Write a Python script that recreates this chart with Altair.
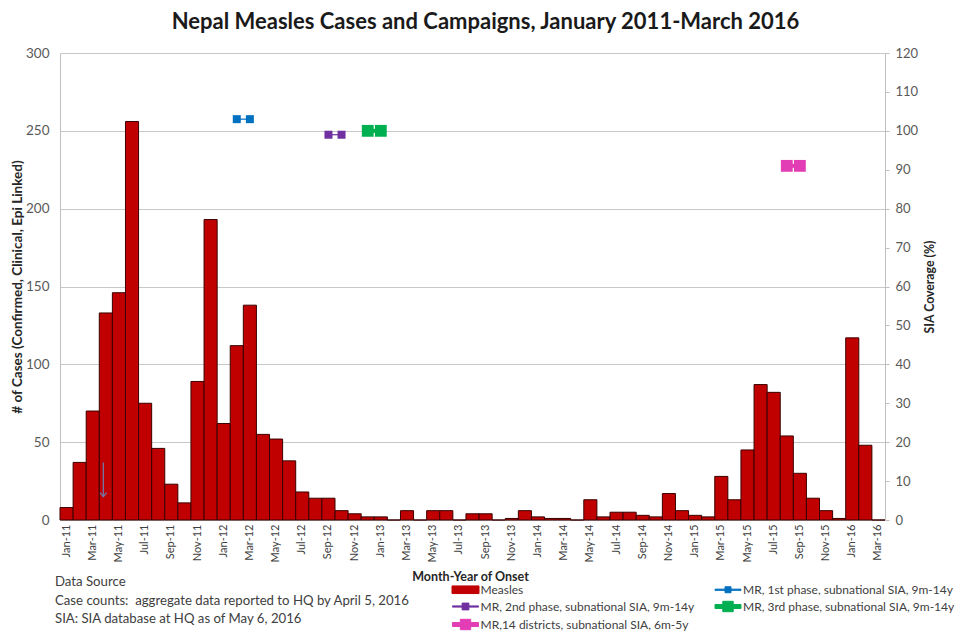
import altair as alt
import pandas as pd

# ---------------- data ----------------
month_labels = [d.strftime("%b-%y") for d in pd.date_range("2011-01-01", "2016-03-01", freq="MS")]
axis_month_labels = month_labels[::2]

cases = [
    8, 37, 70, 133, 146, 256, 75, 46, 23, 11, 89, 193,      # 2011
    62, 112, 138, 55, 52, 38, 18, 14, 14, 6, 4, 2,          # 2012
    2, 0, 6, 0, 6, 6, 0, 4, 4, 0, 1, 6,                     # 2013
    2, 1, 1, 0, 13, 2, 5, 5, 3, 2, 17, 6,                   # 2014
    3, 2, 28, 13, 45, 87, 82, 54, 30, 14, 6, 1,             # 2015
    117, 48, 0,                                             # 2016
]

series_names = [
    "Measles",
    "MR, 1st phase, subnational SIA, 9m-14y",
    "MR, 2nd phase, subnational SIA, 9m-14y",
    "MR, 3rd phase, subnational SIA, 9m-14y",
    "MR,14 districts, subnational SIA, 6m-5y",
]

mr1_months = ["Feb-12", "Mar-12"]
mr1_coverage = [103, 103]
mr2_months = ["Sep-12", "Oct-12"]
mr2_coverage = [99, 99]
mr3_months = ["Dec-12", "Jan-13"]
mr3_coverage = [100, 100]
mr14_months = ["Aug-15", "Sep-15"]
mr14_coverage = [91, 91]

arrow_month = ["Apr-11"]
arrow_top = [37]
arrow_bottom = [15]

notes = [
    "Data Source",
    "Case counts:\u00a0 aggregate data reported to HQ by April 5, 2016",
    "SIA: SIA database at HQ as of May 6, 2016",
]

# ---------------- styles ----------------
series_colors = ["#C00000", "#0070C0", "#7030A0", "#00B050", "#E33DB6"]
FONT = "Lato"

bars_df = pd.DataFrame({"month": month_labels, "cases": cases, "series": series_names[0]})
camp_df = pd.concat([
    pd.DataFrame({"month": mr1_months, "cov": mr1_coverage, "series": series_names[1]}),
    pd.DataFrame({"month": mr2_months, "cov": mr2_coverage, "series": series_names[2]}),
    pd.DataFrame({"month": mr3_months, "cov": mr3_coverage, "series": series_names[3]}),
    pd.DataFrame({"month": mr14_months, "cov": mr14_coverage, "series": series_names[4]}),
], ignore_index=True)
arrow_df = pd.DataFrame({"month": arrow_month, "top": arrow_top, "bottom": arrow_bottom})
notes_df = pd.DataFrame({"t": ["\n".join(notes)]})


def per_entry(values):
    """Nested ternary expression choosing a value per legend entry."""
    expr = f"'{values[-1]}'"
    for n, v in reversed(list(zip(series_names[:-1], values[:-1]))):
        expr = f"datum.value === '{n}' ? '{v}' : ({expr})"
    return alt.ExprRef(expr)


def line_marker(w, t, s):
    """Filled legend glyph: a horizontal line (half-thickness t) with a square (half-size s)."""
    return (f"M{-w},{-t}H{-s}V{-s}H{s}V{-t}H{w}V{t}H{s}V{s}H{-s}V{t}H{-w}Z")


legend_shapes = [
    "M-1.35,-0.38H1.35V0.38H-1.35Z",
    line_marker(1.3, 0.06, 0.3),
    line_marker(1.3, 0.06, 0.34),
    line_marker(1.3, 0.2, 0.52),
    line_marker(1.3, 0.2, 0.52),
]
legend_strokes = ["#400000"] + series_colors[1:]

legend_spec = alt.Legend(
    title=None, orient="none", legendX=395, legendY=526, columns=2,
    direction="horizontal", columnPadding=17.5, rowPadding=0, padding=0,
    symbolSize=400, labelFont=FONT, labelFontSize=12, labelColor="#404040",
    labelLimit=400, labelOffset=4.5,
    symbolType=per_entry(legend_shapes),
    symbolFillColor=per_entry(series_colors),
    symbolStrokeColor=per_entry(legend_strokes),
    symbolStrokeWidth=1,
    symbolOpacity=1,
)

color_enc = alt.Color("series:N", scale=alt.Scale(domain=series_names, range=series_colors), legend=legend_spec)

x_enc = alt.X(
    "month:O",
    scale=alt.Scale(domain=month_labels, paddingInner=0, paddingOuter=0),
    axis=alt.Axis(
        values=axis_month_labels, labelAngle=270, ticks=False, labelPadding=4,
        labelFont=FONT, labelFontSize=11, labelColor="#404040",
        domainColor="#bfbfbf", title="Month-Year of Onset",
        titleFont=FONT, titleFontSize=12.5, titleFontWeight="bold", titleColor="#262626",
        titleX=410, titleY=56, titleBaseline="middle", titleAlign="center", titleAnchor="start",
    ),
)

y_left_scale = alt.Scale(domain=[0, 300], nice=False)
left_axis = alt.Axis(
    values=list(range(0, 301, 50)), ticks=False, grid=True, gridColor="#c8c8c8",
    domainColor="#bfbfbf", labelFont=FONT, labelFontSize=13.5, labelColor="#595959",
    labelPadding=11, title="# of Cases (Confirmed, Clinical, Epi Linked)",
    titleFont=FONT, titleFontSize=13.5, titleFontWeight="bold", titleColor="#262626",
    titlePadding=1,
)

bars = alt.Chart(bars_df).mark_bar(stroke="#3a0000", strokeWidth=1).encode(
    x=x_enc,
    y=alt.Y("cases:Q", scale=y_left_scale, axis=left_axis),
    color=color_enc,
)

arrow_line = alt.Chart(arrow_df).mark_rule(color="#7276a8", strokeWidth=1.3, xOffset=-2.5).encode(
    x=alt.X("month:O"),
    y=alt.Y("top:Q", scale=y_left_scale, axis=left_axis),
    y2="bottom:Q",
)
arrow_head = alt.Chart(arrow_df).mark_point(
    shape="M-1,-1.3L0,0L1,-1.3", filled=False, size=40, strokeWidth=1.3,
    color="#7276a8", xOffset=-2.5, opacity=1,
).encode(
    x=alt.X("month:O"),
    y=alt.Y("bottom:Q", scale=y_left_scale, axis=left_axis),
)

notes_text = alt.Chart(notes_df).mark_text(
    align="left", baseline="alphabetic", lineBreak="\n", lineHeight=18.5,
    font=FONT, fontSize=13.2, color="#404040",
).encode(x=alt.value(-5), y=alt.value(533), text="t:N")

left = alt.layer(bars, arrow_line, arrow_head, notes_text)

y_right = alt.Y(
    "cov:Q", scale=alt.Scale(domain=[0, 120], nice=False),
    axis=alt.Axis(
        orient="right", values=list(range(0, 121, 10)), grid=False, ticks=True, tickSize=4,
        tickColor="#bfbfbf", domainColor="#bfbfbf", labelFont=FONT, labelFontSize=13,
        labelColor="#595959", labelPadding=6, title="SIA Coverage (%)", titleAngle=270,
        titleFont=FONT, titleFontSize=12.3, titleFontWeight="bold", titleColor="#262626",
        titlePadding=19,
    ),
)

thin = camp_df[camp_df["series"].isin(series_names[1:3])]
thick = camp_df[camp_df["series"].isin(series_names[3:5])]

thin_line = alt.Chart(thin).mark_line(strokeWidth=1.2).encode(x="month:O", y=y_right, color=color_enc)
thin_pts = alt.Chart(thin).mark_square(size=64, opacity=1).encode(x="month:O", y=y_right, color=color_enc)
thick_line = alt.Chart(thick).mark_line(strokeWidth=4).encode(x="month:O", y=y_right, color=color_enc)
thick_pts = alt.Chart(thick).mark_square(size=140, opacity=1).encode(x="month:O", y=y_right, color=color_enc)

right = alt.layer(thin_line, thin_pts, thick_line, thick_pts)

chart = alt.layer(left, right).resolve_scale(y="independent").properties(
    width=825, height=467,
    padding={"left": 52, "top": 45, "right": 70, "bottom": 112},
    autosize=alt.AutoSizeParams(type="none"),
    title=alt.TitleParams(
        "Nepal Measles Cases and Campaigns, January 2011-March 2016",
        font=FONT, fontSize=22, fontWeight="bold", color="#1a1a1a",
        anchor="middle", offset=12, dx=13,
    ),
).configure_view(stroke=None)

chart.save("out.html", embed_options={"renderer": "svg", "actions": False})
